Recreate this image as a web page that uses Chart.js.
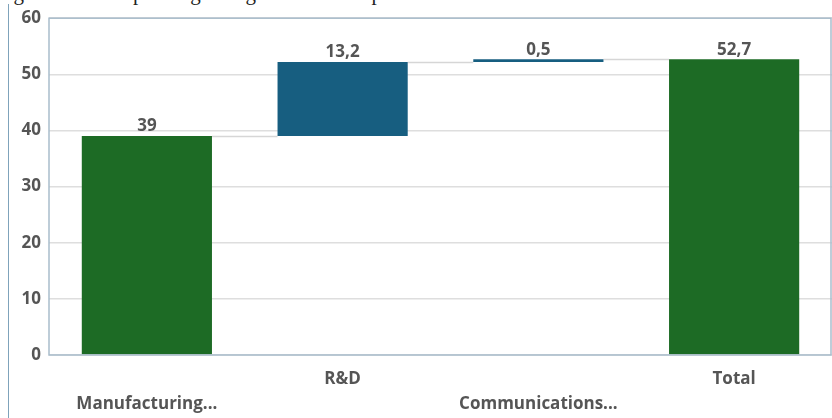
<!DOCTYPE html>
<html>
<head>
<meta charset="utf-8">
<script src="https://cdn.jsdelivr.net/npm/chart.js@4"></script>
<style>
    html, body { margin: 0; padding: 0; background: #fff; overflow: hidden; }
    #wrap { position: relative; width: 832px; height: 418px; }
    #caption {
        position: absolute; left: -4px; top: -19px; white-space: nowrap;
        font-family: "Liberation Serif", "DejaVu Serif", serif; font-size: 21px; color: #222;
    }
    #edge { position: absolute; left: 8px; top: 4px; width: 1px; height: 414px; background: #7fa3bb; }
    canvas { position: absolute; left: 0; top: 0; }
</style>
</head>
<body>
<div id="wrap">
    <div id="caption">Figure 1. Total spending change in the same period</div>
    <div id="edge"></div>
    <canvas id="chart" width="832" height="418"></canvas>
</div>
<script>
// Kategorijas un vērtības
const categories = ['Manufacturing...', 'R&D', 'Communications...', 'Total'];
const steps = [39, 13.2, 0.5];
const total = 52.7;
const yTicks = [0, 10, 20, 30, 40, 50, 60];

const green = 'rgb(29, 107, 37)';
const blue = 'rgb(23, 94, 128)';
const textGray = '#555';
const fontFamily = '"Open Sans", sans-serif';

// Peldošie stabiņi ūdenskrituma diagrammai
const ranges = [];
const labelsText = [];
let running = 0;
steps.forEach(v => {
    ranges.push([running, running + v]);
    labelsText.push(v);
    running += v;
});
ranges.push([0, total]);
labelsText.push(total);

const colors = categories.map((c, i) => (i === 0 || i === categories.length - 1) ? green : blue);

// Etiķetes divās rindās pamīšus
const tickLabels = categories.map((c, i) => i % 2 === 0 ? ['', c] : [c]);

const fmt = v => String(v).replace('.', ',');

const waterfallExtras = {
    id: 'waterfallExtras',
    beforeDatasetsDraw(chart) {
        const { ctx, scales } = chart;
        const meta = chart.getDatasetMeta(0);
        ctx.save();
        // savienojošās līnijas
        ctx.strokeStyle = '#d6d6d6';
        ctx.lineWidth = 1.5;
        for (let i = 0; i < meta.data.length - 1; i++) {
            const a = meta.data[i], b = meta.data[i + 1];
            const y = Math.round(scales.y.getPixelForValue(ranges[i][1])) + 0.5;
            ctx.beginPath();
            ctx.moveTo(a.x + a.width / 2, y);
            ctx.lineTo(b.x - b.width / 2, y);
            ctx.stroke();
        }
        ctx.restore();
    },
    afterDatasetsDraw(chart) {
        const { ctx, chartArea, scales } = chart;
        const meta = chart.getDatasetMeta(0);
        ctx.save();
        // rāmis ap zīmēšanas laukumu
        ctx.strokeStyle = '#a9bdcc';
        ctx.lineWidth = 1.5;
        ctx.strokeRect(chartArea.left, chartArea.top, chartArea.right - chartArea.left - 1, chartArea.bottom - chartArea.top);
        // vērtību etiķetes
        ctx.fillStyle = textGray;
        ctx.font = 'bold 17px ' + fontFamily;
        ctx.textAlign = 'center';
        ctx.textBaseline = 'bottom';
        meta.data.forEach((bar, i) => {
            const y = scales.y.getPixelForValue(ranges[i][1]);
            ctx.fillText(fmt(labelsText[i]), bar.x, y - 1);
        });
        ctx.restore();
    }
};

const ctx = document.getElementById('chart').getContext('2d');
const chart = new Chart(ctx, {
    type: 'bar',
    data: {
        labels: tickLabels,
        datasets: [{
            data: ranges,
            backgroundColor: colors,
            borderWidth: 0,
            barPercentage: 1,
            categoryPercentage: 0.665
        }]
    },
    options: {
        responsive: false,
        animation: false,
        layout: { padding: { top: 18, right: 0, left: 0, bottom: 0 } },
        plugins: {
            legend: { display: false },
            tooltip: { enabled: false }
        },
        scales: {
            x: {
                grid: { display: false, drawTicks: false },
                border: { display: false },
                afterFit: s => { s.height = 63; },
                ticks: {
                    autoSkip: false,
                    maxRotation: 0,
                    minRotation: 0,
                    padding: 12,
                    color: textGray,
                    font: { family: fontFamily, size: 17, weight: 'bold', lineHeight: 1.47 }
                }
            },
            y: {
                min: 0,
                max: 60,
                afterFit: s => { s.width = 49; },
                afterBuildTicks: s => { s.ticks = yTicks.map(v => ({ value: v })); },
                grid: { color: '#dedede', lineWidth: 1.5, drawTicks: false },
                border: { display: false },
                ticks: {
                    padding: 8,
                    color: textGray,
                    font: { family: fontFamily, size: 17, weight: 'bold' }
                }
            }
        }
    },
    plugins: [waterfallExtras]
});
</script>
</body>
</html>
